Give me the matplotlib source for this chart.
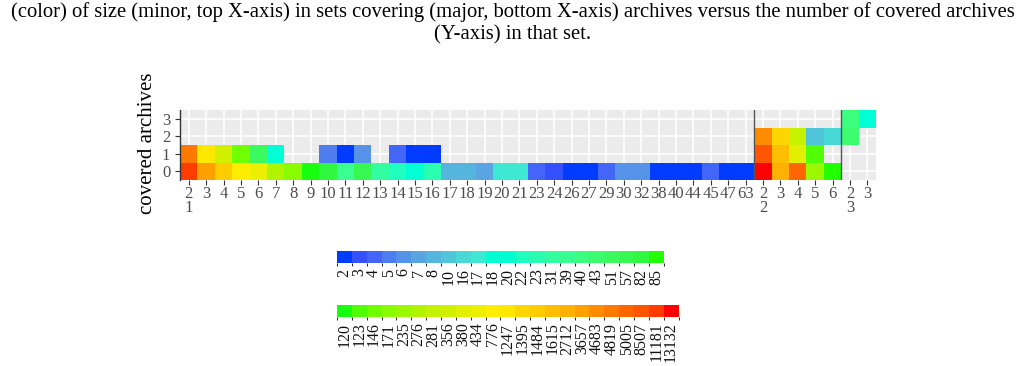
import numpy as np
import matplotlib
matplotlib.use("Agg")
import matplotlib.pyplot as plt
from matplotlib.colors import ListedColormap, BoundaryNorm
from matplotlib.cm import ScalarMappable

nan = np.nan

# ---------------- data ----------------
# distinct counts shown in the two legends (low / high part of the scale)
levels_low = [2, 3, 4, 5, 6, 7, 8, 10, 16, 17, 18, 20, 22, 23, 31, 39, 40, 43, 51, 57, 82, 85]
levels_high = [120, 123, 146, 171, 235, 276, 281, 356, 380, 434, 776, 1247, 1395, 1484,
               1615, 2712, 3657, 4683, 4819, 5005, 8507, 11181, 13132]

# major group 1 (sets covering 1 archive)
g1_sizes = [2, 3, 4, 5, 6, 7, 8, 9, 10, 11, 12, 13, 14, 15, 16, 17, 18, 19, 20, 21,
            23, 24, 26, 27, 29, 30, 32, 38, 40, 44, 45, 47, 63]
g1_y0 = [11181, 3657, 1484, 776, 434, 276, 171, 120, 82, 39, 57, 31, 22, 20, 23, 8, 8, 7,
         17, 17, 4, 3, 2, 2, 4, 6, 6, 2, 2, 2, 4, 2, 2]
g1_y1 = [4819, 1247, 356, 146, 51, 18, nan, nan, 5, 2, 6, nan, 4, 2, 2, nan, nan, nan,
         nan, nan, nan, nan, nan, nan, nan, nan, nan, nan, nan, nan, nan, nan, nan]

# major group 2
g2_sizes = [2, 3, 4, 5, 6]
g2_y0 = [13132, 2712, 5005, 235, 85]
g2_y1 = [8507, 1615, 380, 123, nan]
g2_y2 = [4683, 1395, 281, 10, 16]

# major group 3
g3_sizes = [2, 3]
g3_y2 = [43, nan]
g3_y3 = [40, 18]

covered = [0, 1, 2, 3]
majors = [1, 2, 3]

# ---------------- styles ----------------
colors_low = ["#003cff", "#3550ff", "#4466f8", "#4d7def", "#5592e8", "#58a5e2", "#55b5dd",
              "#50c5da", "#48d8d5", "#3ee8d3", "#00ffd5", "#00ffd2", "#20ffc0", "#2affb0",
              "#32ffa0", "#38ff90", "#3cff80", "#3cfc70", "#3afa60", "#36f850", "#30f840",
              "#22ff00"]
colors_high = ["#18ff10", "#50ff05", "#70ff00", "#88fc00", "#9cf800", "#b0f400", "#c4f200",
               "#d0f000", "#e0f000", "#ecf000", "#ffee00", "#ffe800", "#ffd500", "#ffcc00",
               "#ffbf00", "#ffb000", "#ffa000", "#ff8c00", "#ff7800", "#ff6600", "#ff5500",
               "#ff3c00", "#ff0000"]
SERIF = ["Liberation Serif", "DejaVu Serif"]
plt.rcParams["font.family"] = SERIF

levels = levels_low + levels_high
colors_all = colors_low + colors_high
nlev = len(levels)

# ---------------- build grid ----------------
groups = [
    (g1_sizes, [g1_y0, g1_y1, [nan] * len(g1_sizes), [nan] * len(g1_sizes)]),
    (g2_sizes, [g2_y0, g2_y1, g2_y2, [nan] * len(g2_sizes)]),
    (g3_sizes, [[nan] * len(g3_sizes), [nan] * len(g3_sizes), g3_y2, g3_y3]),
]
ncols = sum(len(s) for s, _ in groups)
grid = np.full((len(covered), ncols), np.nan)
xlabels = []
boundaries = []
col = 0
for gi, (sizes, rows) in enumerate(groups):
    for j, s in enumerate(sizes):
        for r in range(len(covered)):
            v = rows[r][j]
            if not np.isnan(v):
                grid[r, col] = levels.index(int(v))
        xlabels.append(f"{s}\n{majors[gi]}" if j == 0 else f"{s}")
        col += 1
    boundaries.append(col - 0.5)
boundaries = boundaries[:-1]

W, H = 1026, 366
fig = plt.figure(figsize=(W / 100, H / 100), dpi=100)

ax = fig.add_axes([180 / W, 1 - 180 / H, 696 / W, 70 / H])
ax.set_facecolor("#ebebeb")
cmap = ListedColormap(colors_all)
norm = BoundaryNorm(np.arange(nlev + 1) - 0.5, nlev)
xe = np.arange(ncols + 1) - 0.5
ye = np.array(covered + [covered[-1] + 1]) - 0.5
ax.pcolormesh(xe, ye, np.ma.masked_invalid(grid), cmap=cmap, norm=norm)
ax.set_xlim(-0.5, ncols - 0.5)
ax.set_ylim(-0.5, covered[-1] + 0.5)
ax.set_axisbelow(True)
ax.grid(True, color="white", lw=1.1)
ax.set_xticks(np.arange(ncols))
ax.set_xticklabels(xlabels)
ax.set_yticks(covered)
ax.tick_params(axis="both", colors="#333333", labelcolor="#4d4d4d", labelsize=12,
               length=3.5, width=0.8, pad=0.5)
ax.tick_params(axis="y", pad=3.5)
for t in ax.get_xticklabels():
    t.set_linespacing(0.85)
    t.set_verticalalignment("top")
for s in ["top", "right", "bottom"]:
    ax.spines[s].set_visible(False)
ax.spines["left"].set_color("#333333")
ax.spines["left"].set_linewidth(1.0)
for b in boundaries:
    ax.axvline(b, color="#555555", lw=1.0, zorder=3)

fig.text(148 / W, 1 - 143 / H, "covered archives", rotation=90, ha="center", va="center",
         fontsize=15, color="black")

# caption
cap1 = ("(color) of size (minor, top X-axis) in sets covering (major, bottom X-axis) "
        "archives versus the number of covered archives")
cap2 = "(Y-axis) in that set."
t1 = fig.text(0.5, 1 - 12 / H, cap1, ha="center", va="center", fontsize=14, color="black")
fig.canvas.draw()
w = t1.get_window_extent(renderer=fig.canvas.get_renderer()).width
fs = 14 * 1015 / w
t1.set_fontsize(fs)
fig.text(0.5, 1 - 35 / H, cap2, ha="center", va="center", fontsize=fs, color="black")

# legends
def legend_strip(x0, y0, levs, cols):
    n = len(levs)
    cax = fig.add_axes([x0 / W, 1 - (y0 + 12) / H, n * 14.85 / W, 12 / H])
    cm = ListedColormap(cols)
    nm = BoundaryNorm(np.arange(n + 1), n)
    cb = fig.colorbar(ScalarMappable(norm=nm, cmap=cm), cax=cax, orientation="horizontal",
                      ticks=np.arange(n) + 0.5)
    cb.outline.set_visible(False)
    cb.ax.set_xticklabels([str(v) for v in levs], rotation=90, va="top")
    cb.ax.tick_params(length=0, labelsize=11.5, pad=4, labelcolor="#111111")

legend_strip(337, 251, levels_low, colors_low)
legend_strip(337, 305, levels_high, colors_high)

fig.savefig("out.png", dpi=100)
